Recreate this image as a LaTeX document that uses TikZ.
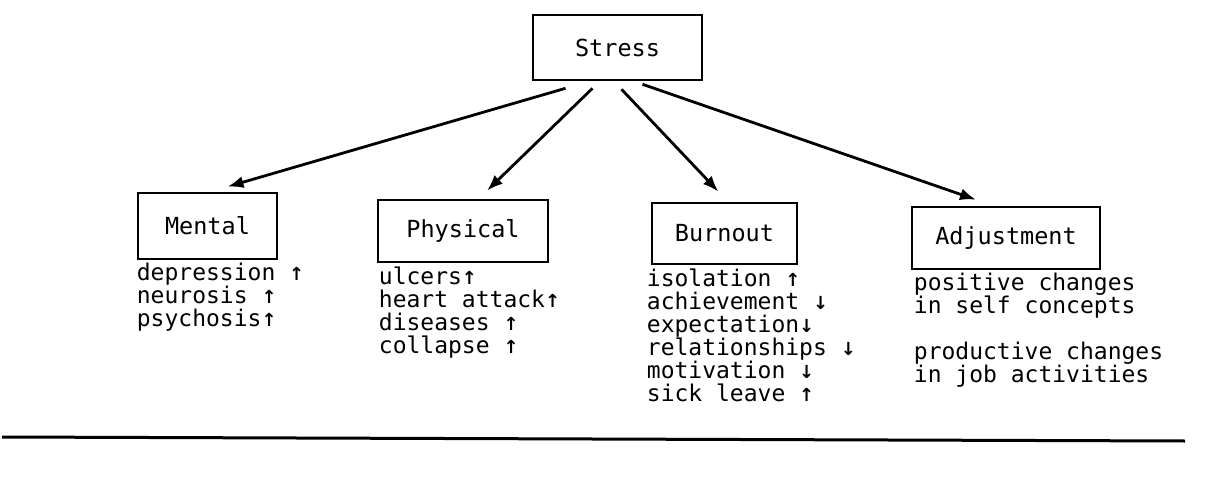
\documentclass[tikz,border=0pt]{standalone}
\usepackage{fontspec}
\setmonofont{DejaVu Sans Mono}
\newfontfamily\arrowfont{DejaVu Sans}
\usetikzlibrary{positioning, arrows.meta}
\newcommand{\up}{{\arrowfont\bfseries\fontsize{18}{18}\selectfont ↑}}
\newcommand{\dn}{{\arrowfont\bfseries\fontsize{18}{18}\selectfont ↓}}

\begin{document}
\begin{tikzpicture}[x=1pt, y=-1pt,
     node distance = 3pt and 0pt,
        box/.style = {rectangle, draw, line width=2.6pt, inner sep=0pt,
                      font=\ttfamily\fontsize{23.5}{26}\selectfont},
       list/.style = {align=left, inner sep=0pt,
                      font=\ttfamily\fontsize{23}{23}\selectfont},
        arr/.style = {line width=2.8pt, -{Latex[length=16pt,width=12pt]}},
       rule/.style = {line width=3pt}
                    ]
\useasboundingbox (0,0) rectangle (1220,484);
% boxes
\node (stress)    [box, minimum width=169pt, minimum height=65pt] at (617.5,47.5) {Stress};
\node (mental)    [box, minimum width=139pt, minimum height=66pt] at (207.5,226) {Mental};
\node (physical)  [box, minimum width=170pt, minimum height=62pt] at (463,231) {Physical};
\node (burnout)   [box, minimum width=145pt, minimum height=61pt] at (724.5,233.5) {Burnout};
\node (adjust)    [box, minimum width=188pt, minimum height=62pt] at (1006,238) {Adjustment};
% lists
\node (mlist) [list, below right=3pt and 0pt of mental.south west]
      {depression \up\\ neurosis \up\\ psychosis\up};
\node (plist) [list, below right=3pt and 2pt of physical.south west]
      {ulcers\up\\ heart attack\up\\ diseases \up\\ collapse \up};
\node (blist) [list, below right=3pt and -4pt of burnout.south west]
      {isolation \up\\ achievement \dn\\ expectation\dn\\ relationships \dn\\ motivation \dn\\ sick leave \up};
\node (alist) [list, below right=3pt and 3pt of adjust.south west]
      {positive changes\\ in self concepts\\[23pt] productive changes\\ in job activities};
% connectors
\draw[arr] ([xshift=-52pt, yshift=-7pt]stress.south) -- ([xshift=20pt, yshift=5pt]mental.north);
\draw[arr] ([xshift=-25pt, yshift=-7pt]stress.south) -- ([xshift=24pt, yshift=8pt]physical.north);
\draw[arr] ([xshift=4pt, yshift=-8pt]stress.south) -- ([xshift=-6pt, yshift=10pt]burnout.north);
\draw[arr] ([xshift=25pt, yshift=-3pt]stress.south) -- ([xshift=-30pt, yshift=6pt]adjust.north);
% rule under the figure
\coordinate (rule west) at (2,437);
\coordinate (rule east) at (1185,441);
\draw[rule] (rule west) -- (rule east);
\end{tikzpicture}
\end{document}
